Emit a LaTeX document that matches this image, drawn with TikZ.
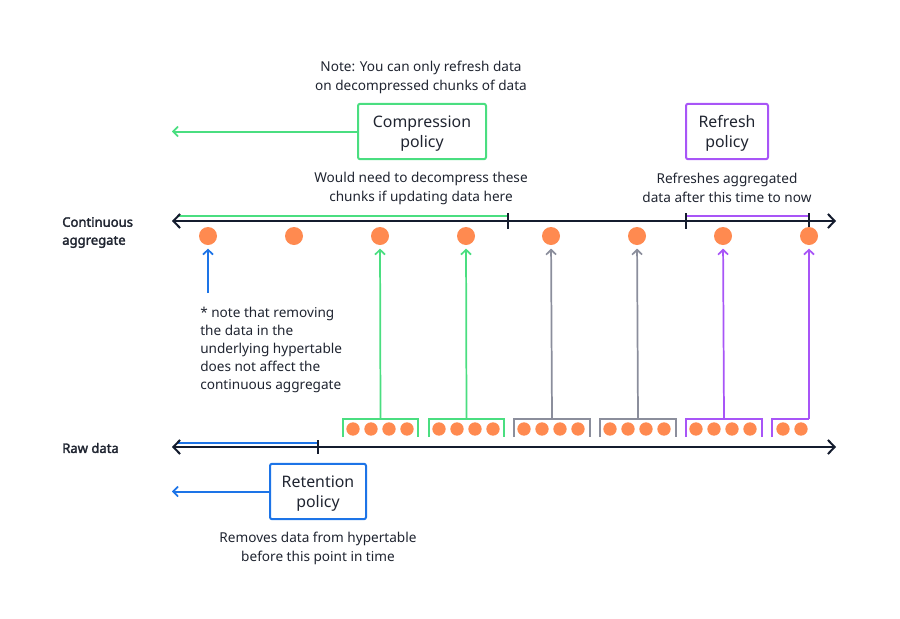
\documentclass[tikz,border=0pt]{standalone}
\usepackage{fontspec}
\setmainfont{Noto Sans}
\newfontfamily\boldlab{Noto Sans}[FakeBold=2.2]
\usetikzlibrary{arrows.meta}
\definecolor{cgreen}{HTML}{4ADE80}
\definecolor{cpurple}{HTML}{A855F7}
\definecolor{cblue}{HTML}{1D74E7}
\definecolor{cgray}{HTML}{8B8E9C}
\definecolor{corange}{HTML}{FF8A50}
\definecolor{cnavy}{HTML}{141C2E}
\definecolor{ctext}{HTML}{1F2430}
\newcommand\boxstrut{\rule{0pt}{12.5pt}}
\begin{document}
\begin{tikzpicture}[x=0.75pt,y=-0.75pt,
  bigtip/.tip={Straight Barb[length=5pt,width=10.5pt,line width=1.5pt]},
  smalltip/.tip={Straight Barb[length=3.6pt,width=7.5pt,line width=1.3pt]},
  axisline/.style={draw=cnavy,line width=1.5pt,bigtip-bigtip},
  tickmark/.style={draw=cnavy,line width=1.5pt},
  bigdot/.style={circle,fill=corange,minimum size=13.5pt,inner sep=0pt},
  smalldot/.style={circle,fill=corange,minimum size=10pt,inner sep=0pt},
  bracket/.style={line width=1.5pt},
  uparrow/.style={line width=1.3pt,-smalltip,shorten >=2.5pt},
  policy/.style={draw,line width=1.5pt,rounded corners=1.5pt,align=center,
    text=ctext,font=\fontsize{11.9}{15}\selectfont,inner sep=0pt},
  label/.style={text=ctext,font=\fontsize{10.2}{14.2}\selectfont,align=center,inner sep=0pt},
  axislabel/.style={text=ctext,font=\boldlab\fontsize{9.8}{13.5}\selectfont,align=left,inner sep=0pt,anchor=west}
]
\useasboundingbox (0,0) rectangle (900,618);

% ---------- continuous aggregate axis ----------
\coordinate (caL) at (172,221);
\coordinate (caR) at (836,221);
\coordinate (ca1) at (508,221);
\coordinate (ca2) at (686,221);
\coordinate (ca3) at (809,221);
\draw[cgreen,line width=1.5pt] (178,216) -- (508,216);
\draw[cpurple,line width=1.5pt] (686,216) -- (809,216);
\draw[axisline] (caL) -- (caR);
\foreach \c in {ca1,ca2,ca3} \draw[tickmark] (\c) ++(0,-8) -- ++(0,16);

\node[axislabel] (calab) at (62,232.5) {Continuous\\aggregate};

\foreach \x [count=\i] in {208,294,380,466,551,637,723,809}
  \node[bigdot] (d\i) at (\x,236) {};

% ---------- raw data axis ----------
\coordinate (rdL) at (172,447);
\coordinate (rdR) at (836,447);
\coordinate (rd1) at (318,447);
\draw[cblue,line width=1.5pt] (178,443) -- (318,443);
\draw[axisline] (rdL) -- (rdR);
\draw[tickmark] (rd1) ++(0,-7) -- ++(0,14);
\node[axislabel] (rdlab) at (62,448) {Raw data};

% ---------- chunk brackets ----------
\foreach \l/\r/\c/\n [count=\i] in {343/418/cgreen/4,429/504/cgreen/4,514/590/cgray/4,600/676/cgray/4,686/762/cpurple/4}{
  \draw[bracket,\c] (\l,437) |- (\r,419) -- (\r,437);
  \coordinate (b\i) at ({(\l+\r)/2},419);
  \foreach \k in {1,...,\n}
    \node[smalldot] (s\i-\k) at ({\l+10+(\k-1)*18},429) {};
}
\draw[bracket,cpurple] (772,437) |- (809,419);
\coordinate (b6) at (809,419);
\node[smalldot] (s6-1) at (783,429) {};
\node[smalldot] (s6-2) at (801,429) {};

\draw[uparrow,cgreen] (b1) -- (d3);
\draw[uparrow,cgreen] (b2) -- (d4);
\draw[uparrow,cgray] (b3) -- (d5);
\draw[uparrow,cgray] (b4) -- (d6);
\draw[uparrow,cpurple] (b5) -- (d7);
\draw[uparrow,cpurple] (b6) -- (d8);

\coordinate (noteTop) at (208,293);
\draw[uparrow,cblue] (noteTop) -- (d1);

\node[text=ctext,font=\fontsize{10.2}{13.6}\selectfont,align=left,anchor=north west,inner sep=0pt] (note) at (200,306.5)
  {* note that removing\\the data in the\\underlying hypertable\\does not affect the\\continuous aggregate};

% ---------- policies ----------
\node[policy,draw=cgreen,minimum width=96pt,minimum height=41.5pt] (comp) at (422,131.5) {\boxstrut Compression\\policy};
\coordinate (compEnd) at (172,131);
\draw[cgreen,line width=1.5pt,-smalltip] (comp.west) -- (comp.west -| compEnd);

\node[policy,draw=cpurple,minimum width=61.5pt,minimum height=41.5pt] (refr) at (727,131.5) {\boxstrut Refresh\\policy};

\node[policy,draw=cblue,minimum width=72pt,minimum height=41.5pt] (ret) at (318,491.5) {\boxstrut Retention\\policy};
\coordinate (retEnd) at (172,491);
\draw[cblue,line width=1.5pt,-smalltip] (ret.west) -- (ret.west -| retEnd);

% ---------- labels ----------
\node[label] (lnote) at (421,77) {Note: You can only refresh data\\on decompressed chunks of data};
\node[label] (lwould) at (421,188) {Would need to decompress these\\chunks if updating data here};
\node[label] (lrefr) at (727,188) {Refreshes aggregated\\data after this time to now};
\node[label] (lrem) at (318,548) {Removes data from hypertable\\before this point in time};
\end{tikzpicture}
\end{document}
